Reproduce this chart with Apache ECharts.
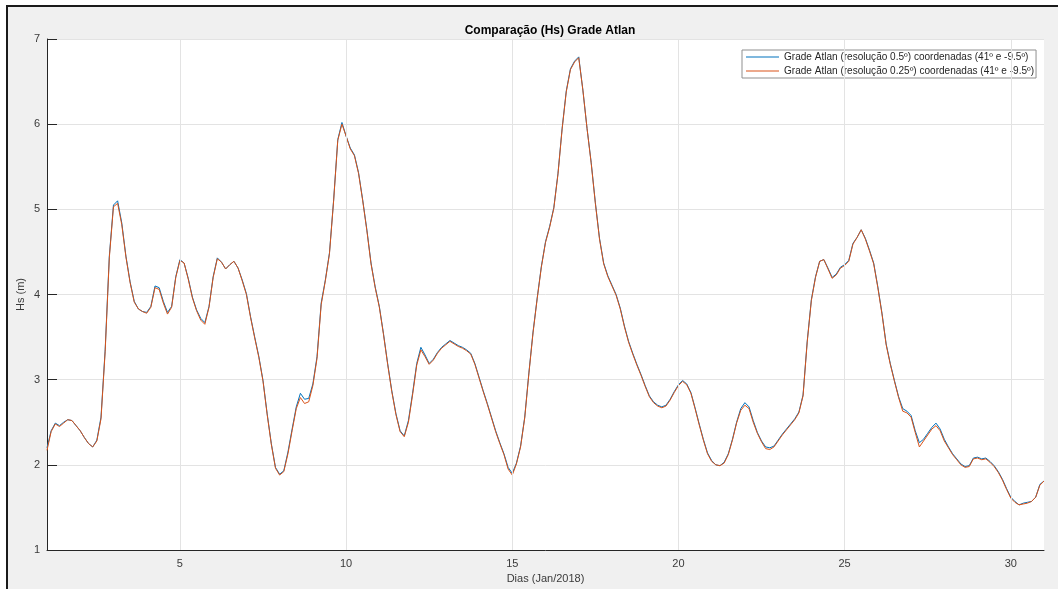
<!DOCTYPE html>
<html>
<head>
<meta charset="utf-8">
<script src="https://cdn.jsdelivr.net/npm/echarts@6/dist/echarts.min.js"></script>
<style>
  html, body { margin: 0; padding: 0; background: #ffffff; }
  #chart { width: 1058px; height: 589px; }
</style>
</head>
<body>
<div id="chart"></div>
<script>
// Significant wave height (Hs, m) at 41º N, -9.5º W, 3-hourly, 1–31 Jan 2018
const chartTitle = 'Comparação (Hs) Grade Atlan';
const seriesNames = [
  'Grade Atlan (resolução 0.5º) coordenadas (41º e -9.5º)',
  'Grade Atlan (resolução 0.25º) coordenadas (41º e -9.5º)'
];
const xAxisName = 'Dias (Jan/2018)';
const yAxisName = 'Hs (m)';
const firstDay = 1;
const stepDays = 1 / 8;
const xTicks = [5, 10, 15, 20, 25, 30];

// Grade Atlan 0.5º
const hsGrid05 = [
  2.20, 2.40, 2.49, 2.46, 2.50, 2.53, 2.52, 2.46,
  2.40, 2.32, 2.25, 2.21, 2.29, 2.56, 3.35, 4.45,
  5.05, 5.10, 4.84, 4.45, 4.15, 3.92, 3.83, 3.80,
  3.79, 3.86, 4.10, 4.08, 3.92, 3.79, 3.86, 4.21,
  4.41, 4.37, 4.19, 3.97, 3.82, 3.72, 3.67, 3.86,
  4.21, 4.43, 4.38, 4.30, 4.35, 4.39, 4.31, 4.17,
  4.01, 3.74, 3.50, 3.27, 2.99, 2.60, 2.25, 1.97,
  1.89, 1.93, 2.15, 2.42, 2.68, 2.84, 2.77, 2.78,
  2.95, 3.27, 3.90, 4.17, 4.49, 5.11, 5.82, 6.02,
  5.86, 5.72, 5.64, 5.43, 5.11, 4.76, 4.37, 4.09,
  3.86, 3.54, 3.19, 2.87, 2.60, 2.40, 2.34, 2.52,
  2.84, 3.19, 3.38, 3.29, 3.19, 3.24, 3.32, 3.38,
  3.42, 3.46, 3.43, 3.40, 3.38, 3.35, 3.31, 3.19,
  3.03, 2.87, 2.72, 2.56, 2.40, 2.26, 2.13, 1.97,
  1.90, 2.02, 2.22, 2.56, 3.08, 3.56, 3.96, 4.33,
  4.62, 4.80, 5.02, 5.42, 5.95, 6.39, 6.65, 6.74,
  6.79, 6.40, 5.95, 5.55, 5.08, 4.66, 4.37, 4.22,
  4.11, 4.00, 3.84, 3.63, 3.45, 3.31, 3.18, 3.06,
  2.93, 2.81, 2.74, 2.70, 2.68, 2.70, 2.77, 2.86,
  2.94, 2.99, 2.95, 2.85, 2.67, 2.48, 2.30, 2.14,
  2.05, 2.00, 1.99, 2.03, 2.13, 2.30, 2.50, 2.66,
  2.73, 2.68, 2.52, 2.38, 2.28, 2.21, 2.20, 2.22,
  2.29, 2.36, 2.42, 2.48, 2.54, 2.62, 2.82, 3.45,
  3.94, 4.21, 4.39, 4.41, 4.31, 4.20, 4.24, 4.32,
  4.35, 4.40, 4.60, 4.67, 4.76, 4.66, 4.52, 4.37,
  4.09, 3.78, 3.42, 3.19, 2.99, 2.80, 2.66, 2.63,
  2.58, 2.40, 2.26, 2.30, 2.37, 2.44, 2.49, 2.42,
  2.30, 2.21, 2.13, 2.07, 2.01, 1.98, 1.99, 2.08,
  2.09, 2.07, 2.08, 2.04, 1.99, 1.92, 1.83, 1.72,
  1.62, 1.57, 1.53, 1.55, 1.56, 1.57, 1.62, 1.77,
  1.81
];

// Grade Atlan 0.25º
const hsGrid025 = [
  2.17, 2.39, 2.48, 2.45, 2.49, 2.53, 2.52, 2.46,
  2.40, 2.32, 2.25, 2.21, 2.28, 2.54, 3.33, 4.43,
  5.03, 5.07, 4.82, 4.44, 4.14, 3.91, 3.83, 3.80,
  3.78, 3.85, 4.08, 4.06, 3.90, 3.77, 3.85, 4.20,
  4.40, 4.37, 4.18, 3.96, 3.81, 3.70, 3.65, 3.85,
  4.20, 4.42, 4.38, 4.30, 4.35, 4.39, 4.31, 4.16,
  4.00, 3.73, 3.49, 3.26, 2.98, 2.59, 2.24, 1.96,
  1.88, 1.92, 2.13, 2.40, 2.66, 2.79, 2.72, 2.74,
  2.93, 3.25, 3.88, 4.16, 4.48, 5.10, 5.81, 6.00,
  5.86, 5.71, 5.63, 5.42, 5.10, 4.75, 4.36, 4.08,
  3.85, 3.53, 3.18, 2.86, 2.59, 2.39, 2.33, 2.50,
  2.82, 3.17, 3.35, 3.27, 3.18, 3.23, 3.31, 3.37,
  3.41, 3.45, 3.42, 3.39, 3.37, 3.34, 3.30, 3.18,
  3.02, 2.86, 2.71, 2.55, 2.39, 2.25, 2.12, 1.95,
  1.88, 2.01, 2.21, 2.55, 3.07, 3.55, 3.95, 4.32,
  4.61, 4.79, 5.01, 5.41, 5.94, 6.38, 6.64, 6.73,
  6.78, 6.40, 5.95, 5.54, 5.07, 4.65, 4.36, 4.21,
  4.10, 3.99, 3.83, 3.62, 3.44, 3.30, 3.17, 3.05,
  2.92, 2.80, 2.73, 2.69, 2.67, 2.69, 2.76, 2.85,
  2.93, 2.98, 2.94, 2.84, 2.66, 2.47, 2.29, 2.13,
  2.04, 2.00, 1.99, 2.02, 2.12, 2.29, 2.49, 2.64,
  2.70, 2.66, 2.50, 2.37, 2.27, 2.19, 2.18, 2.21,
  2.28, 2.35, 2.41, 2.47, 2.53, 2.61, 2.81, 3.44,
  3.93, 4.20, 4.39, 4.41, 4.30, 4.19, 4.23, 4.31,
  4.34, 4.39, 4.59, 4.67, 4.76, 4.65, 4.51, 4.36,
  4.08, 3.77, 3.41, 3.18, 2.98, 2.79, 2.63, 2.61,
  2.56, 2.38, 2.21, 2.28, 2.35, 2.42, 2.46, 2.40,
  2.28, 2.20, 2.12, 2.06, 2.00, 1.97, 1.98, 2.07,
  2.08, 2.06, 2.07, 2.03, 1.98, 1.91, 1.82, 1.71,
  1.61, 1.56, 1.53, 1.54, 1.55, 1.57, 1.62, 1.76,
  1.81
];

const toPairs = (values) => values.map((v, i) => [firstDay + i * stepDays, v]);

const chart = echarts.init(document.getElementById('chart'), null, { renderer: 'canvas' });

const axisColor = '#262626';
const labelColor = '#3a3a3a';
const gridColor = '#e3e3e3';
const fontFamily = '"Liberation Sans", Arial, Helvetica, sans-serif';

chart.setOption({
  animation: false,
  backgroundColor: '#f0f0f0',
  textStyle: { fontFamily: fontFamily },
  graphic: [
    // outer white margin and dark frame edges
    { type: 'rect', shape: { x: 0, y: 0, width: 1058, height: 5 }, style: { fill: '#ffffff' }, silent: true },
    { type: 'rect', shape: { x: 0, y: 0, width: 6, height: 589 }, style: { fill: '#ffffff' }, silent: true },
    { type: 'rect', shape: { x: 6, y: 5, width: 1052, height: 2 }, style: { fill: '#1a1a1a' }, silent: true },
    { type: 'rect', shape: { x: 6, y: 5, width: 2, height: 584 }, style: { fill: '#1a1a1a' }, silent: true }
  ],
  title: {
    text: chartTitle,
    left: 545,
    top: 20,
    textAlign: 'center',
    textStyle: { fontSize: 12, fontWeight: 'bold', color: '#000000', fontFamily: fontFamily }
  },
  grid: { left: 47, right: 14, top: 39, bottom: 39, show: true, backgroundColor: '#ffffff', borderWidth: 0 },
  legend: {
    data: seriesNames,
    orient: 'vertical',
    left: 742,
    top: 50,
    itemWidth: 33,
    itemHeight: 1,
    itemGap: 2,
    icon: 'rect',
    padding: [1, 2, 1, 4],
    backgroundColor: '#ffffff',
    borderColor: '#8f8f8f',
    borderWidth: 1,
    textStyle: { fontSize: 10.05, color: axisColor, lineHeight: 12, fontFamily: fontFamily }
  },
  xAxis: {
    type: 'value',
    min: 1,
    max: 31,
    name: xAxisName,
    nameLocation: 'middle',
    nameGap: 23,
    nameMoveOverlap: false,
    nameTextStyle: { fontSize: 11, color: labelColor },
    axisLine: { show: true, lineStyle: { color: axisColor, width: 1 } },
    axisTick: { show: true, inside: true, length: 10, customValues: xTicks, lineStyle: { color: axisColor } },
    axisLabel: { fontSize: 11, color: labelColor, margin: 8, customValues: xTicks },
    splitLine: { show: false }
  },
  yAxis: {
    type: 'value',
    min: 1,
    max: 7,
    interval: 1,
    name: yAxisName,
    nameLocation: 'middle',
    nameGap: 21,
    nameMoveOverlap: false,
    nameRotate: 90,
    nameTextStyle: { fontSize: 11, color: labelColor },
    axisLine: { show: true, lineStyle: { color: axisColor, width: 1 } },
    axisTick: { show: true, inside: true, length: 10, lineStyle: { color: axisColor } },
    axisLabel: { fontSize: 11, color: labelColor, margin: 7 },
    splitLine: { show: true, lineStyle: { color: gridColor, width: 1 } }
  },
  series: [
    {
      name: 'xgrid',
      type: 'line',
      data: [],
      silent: true,
      z: 1,
      markLine: {
        silent: true,
        symbol: ['none', 'none'],
        label: { show: false },
        lineStyle: { color: gridColor, width: 1, type: 'solid' },
        data: xTicks.map(v => ({ xAxis: v }))
      }
    },
    {
      name: seriesNames[0],
      type: 'line',
      data: toPairs(hsGrid05),
      showSymbol: false,
      z: 2,
      color: '#0072BD',
      lineStyle: { width: 1, color: '#0072BD' }
    },
    {
      name: seriesNames[1],
      type: 'line',
      data: toPairs(hsGrid025),
      showSymbol: false,
      z: 3,
      color: '#D95319',
      lineStyle: { width: 1, color: '#D95319' }
    }
  ]
});
</script>
</body>
</html>
